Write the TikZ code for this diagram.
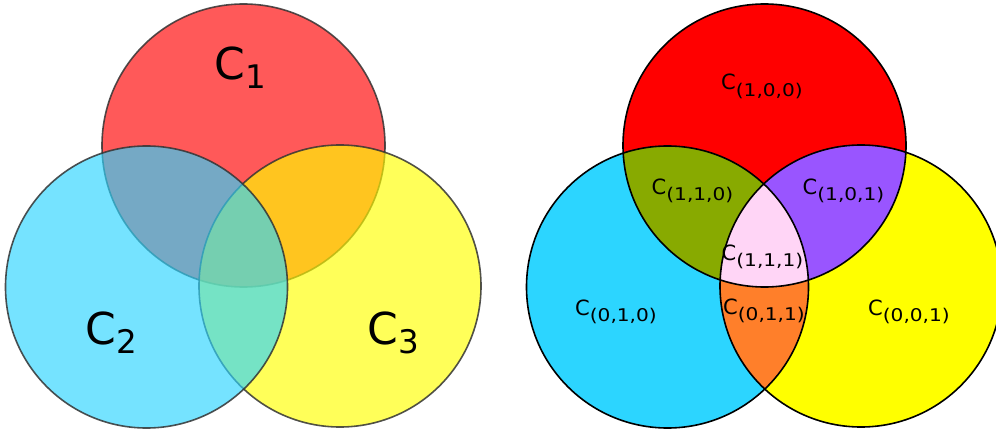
\documentclass[tikz,border=0pt]{standalone}
\usepackage{fontspec}
\setmainfont{DejaVu Sans}
\newfontfamily\subfont[FakeStretch=1.15]{DejaVu Sans}
\definecolor{vred}{HTML}{FF0000}
\definecolor{vcyan}{HTML}{2CD5FF}
\definecolor{vyellow}{HTML}{FFFF00}
\definecolor{volive}{HTML}{88AA00}
\definecolor{vpurple}{HTML}{9955FF}
\definecolor{vpink}{HTML}{FFD5F6}
\definecolor{vorange}{HTML}{FF7F2A}
\definecolor{vstroke}{HTML}{333333}
\newcommand{\biglab}[1]{\fontsize{44}{44}\selectfont C\raisebox{-9.4pt}{\fontsize{32.5}{32.5}\selectfont #1}}
\newcommand{\smlab}[1]{\fontsize{21}{21}\selectfont C\raisebox{-6.4pt}{\subfont\fontsize{17.5}{17.5}\selectfont (#1)}}
\tikzset{
  softcirc/.style={fill opacity=0.65, draw=vstroke, draw opacity=0.85, line width=1.6pt},
  hardline/.style={draw=black, line width=1.6pt},
  lab/.style={inner sep=0pt, anchor=base}
}
\begin{document}
\begin{tikzpicture}[x=1pt,y=-1pt]
\useasboundingbox[fill=white] (0,0) rectangle (996,433);
% left diagram
\coordinate (L1) at (243.5,145.5);
\coordinate (L2) at (146.5,287);
\coordinate (L3) at (340,286);
\path[softcirc, fill=vred] (L1) circle (141.5);
\path[softcirc, fill=vyellow] (L3) circle (141);
\path[softcirc, fill=vcyan] (L2) circle (141);
\node[lab] (c1) at (240,79.5) {\biglab{1}};
\node[lab] (c2) at (111,344.5) {\biglab{2}};
\node[lab] (c3) at (393,344.5) {\biglab{3}};
% right diagram
\coordinate (R1) at (764.5,145.5);
\coordinate (R2) at (667.5,287);
\coordinate (R3) at (861,286);
\fill[vred] (R1) circle (141.5);
\fill[vcyan] (R2) circle (141);
\fill[vyellow] (R3) circle (141);
\begin{scope}
  \clip (R1) circle (141.5);
  \fill[volive] (R2) circle (141);
  \fill[vpurple] (R3) circle (141);
\end{scope}
\begin{scope}
  \clip (R2) circle (141);
  \fill[vorange] (R3) circle (141);
  \clip (R3) circle (141);
  \fill[vpink] (R1) circle (141.5);
\end{scope}
\draw[hardline] (R1) circle (141.5);
\draw[hardline] (R2) circle (141);
\draw[hardline] (R3) circle (141);
\node[lab] (r100) at (762,90) {\smlab{1,0,0}};
\node[lab] (r110) at (692.5,194.5) {\smlab{1,1,0}};
\node[lab] (r101) at (843.5,194) {\smlab{1,0,1}};
\node[lab] (r111) at (762.5,260.5) {\smlab{1,1,1}};
\node[lab] (r010) at (616,315.5) {\smlab{0,1,0}};
\node[lab] (r011) at (764,314.5) {\smlab{0,1,1}};
\node[lab] (r001) at (909,315.5) {\smlab{0,0,1}};
\end{tikzpicture}
\end{document}
